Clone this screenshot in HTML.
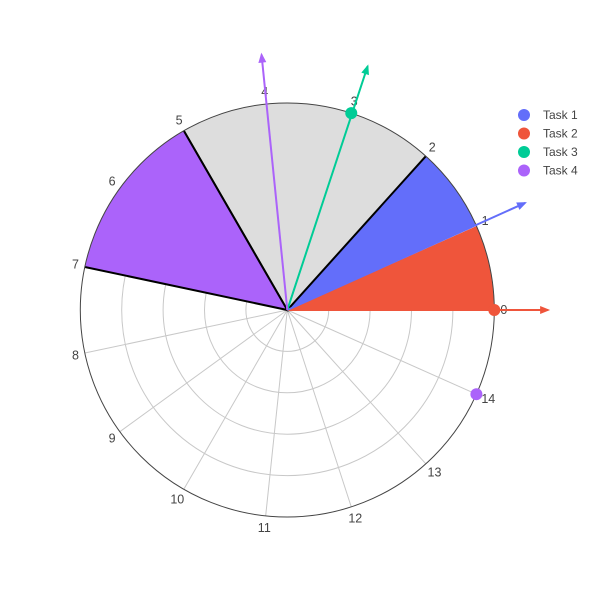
<!DOCTYPE html>
<html><head><meta charset="utf-8"><style>
body{margin:0;background:#fff;font-family:"Liberation Sans",sans-serif}
</style></head><body>
<svg id="c" width="600" height="600" xmlns="http://www.w3.org/2000/svg"></svg>
<script>
const categories=["0","1","2","3","4","5","6","7","8","9","10","11","12","13","14"];
const wedgeNames=["Task 2","Task 1","Background","Task 4"];
const wedgeStart=[0,1,2,5];
const wedgeEnd=[1,2,5,7];
const wedgeR=[5,5,5,5];
const wedgeColor=["#EF553B","#636efa","#dddddd","#ab63fa"];
const arrowTheta=[0,1.01,2.99,3.99];
const arrowR=[6.3,6.3,6.2,6.2];
const arrowColor=["#EF553B","#636efa","#00cc96","#ab63fa"];
const markerTheta=[0,3,14];
const markerR=[5,5,5];
const markerColor=["#EF553B","#00cc96","#ab63fa"];
const legendNames=["Task 1","Task 2","Task 3","Task 4"];
const legendColors=["#636efa","#EF553B","#00cc96","#ab63fa"];

const svg=document.getElementById('c');const NS="http://www.w3.org/2000/svg";
const cx=287.3,cy=310,R=207,rmax=5,N=categories.length;
const ang=t=>t*2*Math.PI/N;
const rr=r=>r/rmax*R;
const px=(t,r)=>[cx+rr(r)*Math.cos(ang(t)),cy-rr(r)*Math.sin(ang(t))];
function mk(tag,attrs,parent){const e=document.createElementNS(NS,tag);for(const k in attrs)e.setAttribute(k,attrs[k]);(parent||svg).appendChild(e);return e;}
// grid
for(let i=1;i<=4;i++){const c=mk('circle',{cx:cx,cy:cy,r:rr(i),fill:'none',stroke:'#c8c8c8'});

}
categories.forEach((lab,i)=>{const [x,y]=px(i,5);const l=mk('line',{x1:cx,y1:cy,x2:x,y2:y,stroke:'#c8c8c8'});


const a=ang(i);const ca=Math.cos(a),sa=Math.sin(a);
const hw=lab.length*3.5;
const tx=cx+(R+6)*ca+ca*hw, ty=cy-(R+6)*sa-sa*6+4;
const t=mk('text',{x:tx,y:ty,'font-size':12.5,fill:'#444','text-anchor':'middle'});t.textContent=lab;

});
// wedges
wedgeNames.forEach((n,i)=>{const [x1,y1]=px(wedgeStart[i],wedgeR[i]);const [x2,y2]=px(wedgeEnd[i],wedgeR[i]);const large=(wedgeEnd[i]-wedgeStart[i])*360/N>180?1:0;
const p=mk('path',{d:`M${cx},${cy}L${x1},${y1}A${rr(wedgeR[i])},${rr(wedgeR[i])} 0 ${large} 0 ${x2},${y2}Z`,fill:wedgeColor[i],stroke:i<2?'#fff':'none','stroke-width':0.5});


if(i>=2){const e=mk('path',{d:`M${x1},${y1}L${cx},${cy}L${x2},${y2}`,fill:'none',stroke:'#000','stroke-width':2});

}});
const ring=mk('circle',{cx:cx,cy:cy,r:R,fill:'none',stroke:'#444','stroke-width':1});


// arrows
arrowTheta.forEach((t,i)=>{const [x,y]=px(t,arrowR[i]);const l=mk('line',{x1:cx,y1:cy,x2:x,y2:y,stroke:arrowColor[i],'stroke-width':2});


const a=ang(t);const dx=Math.cos(a),dy=-Math.sin(a);const nx=-dy,ny=dx;
const h=mk('polygon',{points:`${x+dx*2},${y+dy*2} ${x-dx*8+nx*4},${y-dy*8+ny*4} ${x-dx*8-nx*4},${y-dy*8-ny*4}`,fill:arrowColor[i]});

});
markerTheta.forEach((t,i)=>{const [x,y]=px(t,markerR[i]);const c=mk('circle',{cx:x,cy:y,r:6,fill:markerColor[i]});

});
// legend
legendNames.forEach((n,i)=>{const y=115+i*18.5;const c=mk('circle',{cx:524,cy:y,r:6,fill:legendColors[i]});


const t=mk('text',{x:543,y:y+4,'font-size':12,fill:'#444'});t.textContent=n;

});
</script>
</body></html>
